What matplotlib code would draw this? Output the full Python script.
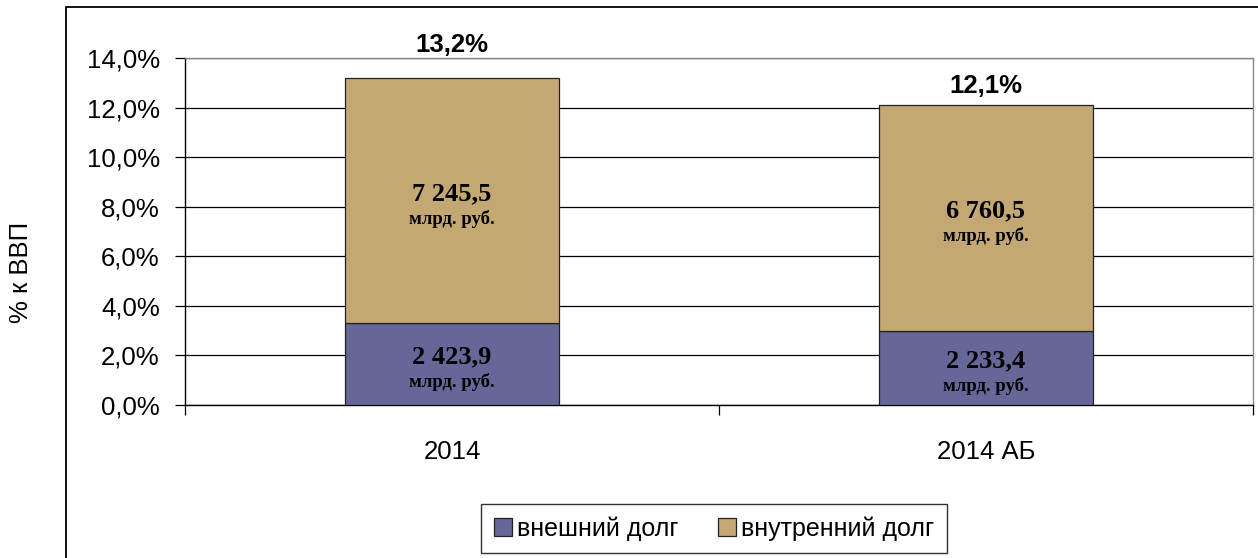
import matplotlib.pyplot as plt
from matplotlib.patches import Rectangle
from matplotlib.ticker import FuncFormatter, FixedLocator
import numpy as np

categories = ["2014", "2014 АБ"]
external_pct = [3.3, 3.0]
internal_pct = [9.9, 9.1]
total_pct = [13.2, 12.1]
external_bln = [2423.9, 2233.4]
internal_bln = [7245.5, 6760.5]
series_names = ["внешний долг", "внутренний долг"]

col_ext = "#666699"
col_int = "#C4A874"
sans = "Liberation Sans"
serif = "Liberation Serif"


def fmt_num(v):
    s = f"{v:,.1f}".replace(",", " ").replace(".", ",")
    return s


def fmt_pct(v):
    return f"{v:.1f}%".replace(".", ",")


fig = plt.figure(figsize=(12.58, 5.58), dpi=100)
ax = fig.add_axes([185 / 1258, 1 - 405 / 558, (1253 - 185) / 1258, (405 - 58) / 558])

# outer chart frame (runs off right/bottom edge)
fig.patches.append(Rectangle((66 / 1258, -0.1), 2, 1.1 - 7.5 / 558,
                             transform=fig.transFigure, fill=False,
                             edgecolor="black", linewidth=1.3))

x = np.arange(len(categories))
w = 0.4
b1 = ax.bar(x, external_pct, w, color=col_ext, edgecolor="#222222", linewidth=0.9,
            label=series_names[0], zorder=3)
b2 = ax.bar(x, internal_pct, w, bottom=external_pct, color=col_int, edgecolor="#222222",
            linewidth=0.9, label=series_names[1], zorder=3)

ax.set_xlim(-0.5, 1.5)
ax.set_ylim(0, 14)
ax.set_yticks(np.arange(0, 14.1, 2))
ax.yaxis.set_major_formatter(FuncFormatter(lambda v, p: fmt_pct(v)))
ax.yaxis.grid(True, color="black", linewidth=0.9, zorder=0)
ax.set_axisbelow(True)

ax.set_xticks(x)
ax.set_xticklabels(categories)
ax.xaxis.set_minor_locator(FixedLocator([-0.5, 0.5, 1.5]))
ax.tick_params(axis="x", which="major", length=0, pad=25, labelsize=18.5)
ax.tick_params(axis="x", which="minor", length=7.2, width=0.9, color="black")
ax.tick_params(axis="y", length=7.2, width=0.9, pad=11, labelsize=18.5)
for lab in ax.get_xticklabels() + ax.get_yticklabels():
    lab.set_fontfamily(sans)

ax.spines["left"].set_color("black")
ax.spines["bottom"].set_color("black")
ax.spines["top"].set_color("#888888")
ax.spines["right"].set_color("#888888")
for s in ax.spines.values():
    s.set_linewidth(1.0)

fig.text(21 / 1258, 1 - 272 / 558, "% к ВВП", rotation=90, ha="center", va="center",
         fontfamily=sans, fontsize=18.5)

# segment labels
for i in range(len(categories)):
    segs = [(external_pct[i] / 2, external_bln[i]),
            (external_pct[i] + internal_pct[i] / 2, internal_bln[i])]
    for yc, val in segs:
        ax.annotate(fmt_num(val), (x[i], yc), xytext=(0, 5), textcoords="offset points",
                    ha="center", va="center", fontfamily=serif, fontweight="bold",
                    fontsize=19, zorder=5)
        ax.annotate("млрд. руб.", (x[i], yc), xytext=(0, -13), textcoords="offset points",
                    ha="center", va="center", fontfamily=serif, fontweight="bold",
                    fontsize=13.5, zorder=5)

# total labels
total_offsets = [23.5, 13.7]
for i in range(len(categories)):
    ax.annotate(fmt_pct(total_pct[i]), (x[i], total_pct[i]),
                xytext=(0, total_offsets[i]), textcoords="offset points",
                ha="center", va="center", fontfamily=sans, fontweight="bold",
                fontsize=18.5, annotation_clip=False)

leg = fig.legend(handles=[b1, b2], labels=series_names, loc="center",
                 bbox_to_anchor=(714 / 1258, 1 - 528.5 / 558), ncol=2,
                 frameon=True, fancybox=False, edgecolor="black",
                 prop={"family": sans, "size": 18},
                 handlelength=0.72, handleheight=0.72, handletextpad=0.2,
                 columnspacing=1.6, borderpad=0.5, borderaxespad=0)
leg.get_frame().set_linewidth(1.0)

fig.savefig("out.png", dpi=100)
